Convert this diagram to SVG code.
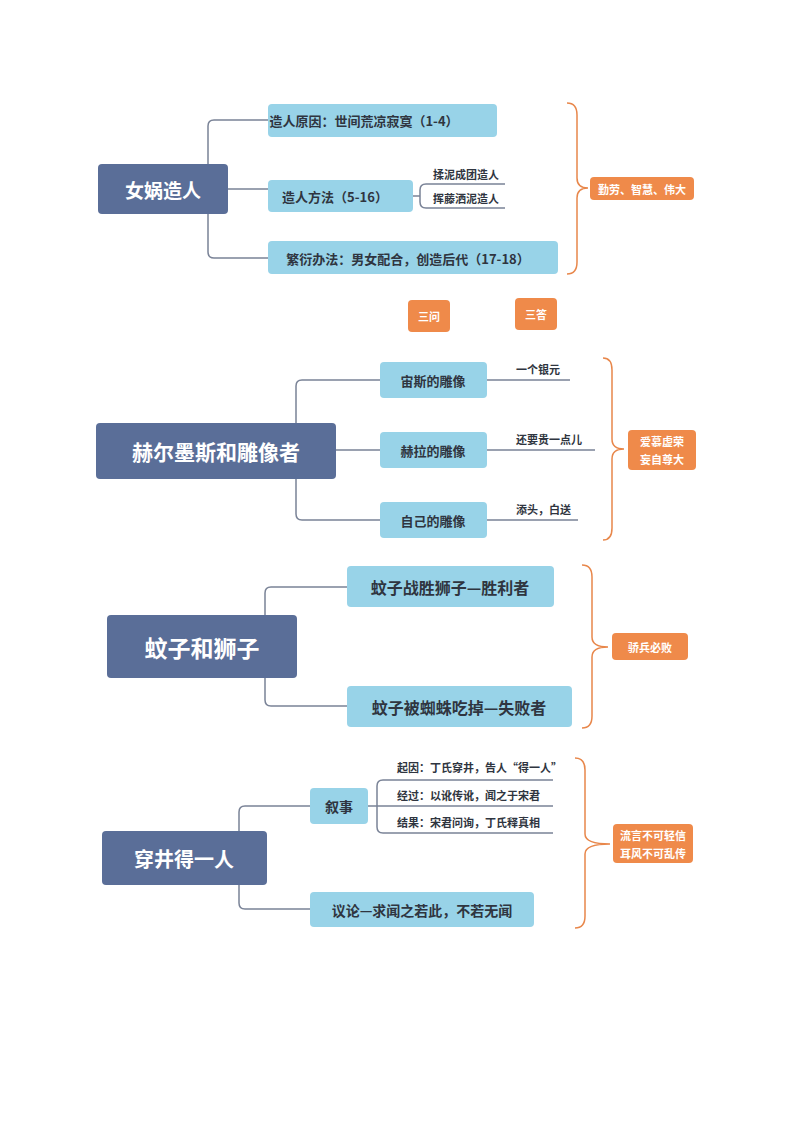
<svg xmlns="http://www.w3.org/2000/svg" width="794" height="1123" viewBox="0 0 794 1123">
<style>
text{font-family:"Noto Sans CJK SC","Liberation Sans",sans-serif;font-weight:bold;dominant-baseline:central}
.root{fill:#5a6e98}
.rt{fill:#fff;text-anchor:middle}
.ch{fill:#98d3e8}
.ct{fill:#2f3540;text-anchor:middle}
.or{fill:#ef8a4a}
.ot{fill:#fff;text-anchor:middle;font-size:11px}
.ln{fill:none;stroke:#7a8397;stroke-width:1.5}
.br{fill:none;stroke:#e8874b;stroke-width:1.5}
.st{fill:#2f3540;font-size:11px}
</style>
<rect width="794" height="1123" fill="#fff"/>
<g id="connectors">
<path class="ln" d="M228,189 H268 M268,120 H214 Q208,120 208,126 V252 Q208,258 214,258 H268"/>
<path class="ln" d="M413,196 H420 M505,184 H426 Q420,184 420,190 V202 Q420,208 426,208 H505"/>
<path class="ln" d="M336,450 H380 M380,380 H302 Q296,380 296,386 V514 Q296,520 302,520 H380"/>
<path class="ln" d="M487,380 H570 M487,450 H595 M487,520 H578"/>
<path class="ln" d="M347,587 H271 Q265,587 265,593 V700 Q265,706 271,706 H347"/>
<path class="ln" d="M310,806 H245 Q239,806 239,812 V903 Q239,909 245,909 H310"/>
<path class="ln" d="M368,806 H553 M553,780 H383 Q377,780 377,786 V827 Q377,833 383,833 H553"/>
<path class="br" d="M567,103 Q577,103 577,115 V178 Q577,188 588,188 Q577,188 577,198 V262 Q577,274 567,274"/>
<path class="br" d="M603,358 Q612,358 612,370 V439 Q612,449 624,449 Q612,449 612,459 V528 Q612,540 603,540"/>
<path class="br" d="M582,565 Q592,565 592,577 V637 Q592,647 608,647 Q592,647 592,657 V716 Q592,728 582,728"/>
<path class="br" d="M575,758 Q585,758 585,770 V834 Q585,844 610,844 Q585,844 585,854 V916 Q585,928 575,928"/>
</g>
<g id="n1"><rect class="root" x="98" y="164" width="130" height="50" rx="4"/><text class="rt" x="163" y="189" font-size="19">女娲造人</text></g>
<g id="n1a"><rect class="ch" x="268" y="104" width="229" height="33" rx="4"/><text class="ct" x="364" y="120" font-size="13">造人原因：世间荒凉寂寞（1-4）</text></g>
<g id="n1b"><rect class="ch" x="268" y="180" width="145" height="32" rx="4"/><text class="ct" x="335" y="196" font-size="13">造人方法（5-16）</text></g>
<g id="n1c"><rect class="ch" x="268" y="241" width="290" height="33" rx="4"/><text class="ct" x="408" y="258" font-size="13">繁衍办法：男女配合，创造后代（17-18）</text></g>
<g id="n1b1"><text class="st" x="433" y="174">揉泥成团造人</text></g>
<g id="n1b2"><text class="st" x="433" y="198">挥藤洒泥造人</text></g>
<g id="n1s"><rect class="or" x="590" y="177" width="104" height="23" rx="4"/><text class="ot" x="642" y="189">勤劳、智慧、伟大</text></g>
<g id="q"><rect class="or" x="408" y="300" width="42" height="32" rx="4"/><text class="ot" x="429" y="316" font-size="12">三问</text></g>
<g id="a"><rect class="or" x="515" y="298" width="42" height="32" rx="4"/><text class="ot" x="536" y="314" font-size="12">三答</text></g>
<g id="n2"><rect class="root" x="96" y="423" width="240" height="56" rx="4"/><text class="rt" x="216" y="451" font-size="21">赫尔墨斯和雕像者</text></g>
<g id="n2a"><rect class="ch" x="380" y="362" width="107" height="36" rx="4"/><text class="ct" x="433" y="380" font-size="13">宙斯的雕像</text></g>
<g id="n2b"><rect class="ch" x="380" y="432" width="107" height="36" rx="4"/><text class="ct" x="433" y="450" font-size="13">赫拉的雕像</text></g>
<g id="n2c"><rect class="ch" x="380" y="502" width="107" height="36" rx="4"/><text class="ct" x="433" y="520" font-size="13">自己的雕像</text></g>
<g id="n2a1"><text class="st" x="516" y="369">一个银元</text></g>
<g id="n2b1"><text class="st" x="516" y="439">还要贵一点儿</text></g>
<g id="n2c1"><text class="st" x="516" y="509">添头，白送</text></g>
<g id="n2s"><rect class="or" x="628" y="430" width="68" height="40" rx="4"/><text class="ot" x="662" y="441">爱慕虚荣</text><text class="ot" x="662" y="459">妄自尊大</text></g>
<g id="n3"><rect class="root" x="107" y="615" width="190" height="63" rx="4"/><text class="rt" x="202" y="647" font-size="23">蚊子和狮子</text></g>
<g id="n3a"><rect class="ch" x="347" y="566" width="207" height="41" rx="4"/><text class="ct" x="450" y="587" font-size="16">蚊子战胜狮子—胜利者</text></g>
<g id="n3b"><rect class="ch" x="347" y="686" width="225" height="41" rx="4"/><text class="ct" x="459" y="707" font-size="16">蚊子被蜘蛛吃掉—失败者</text></g>
<g id="n3s"><rect class="or" x="612" y="633" width="76" height="27" rx="4"/><text class="ot" x="650" y="647" font-size="13">骄兵必败</text></g>
<g id="n4"><rect class="root" x="102" y="831" width="165" height="54" rx="4"/><text class="rt" x="184" y="858" font-size="20">穿井得一人</text></g>
<g id="n4a"><rect class="ch" x="310" y="788" width="58" height="36" rx="4"/><text class="ct" x="339" y="806" font-size="14">叙事</text></g>
<g id="n4b"><rect class="ch" x="310" y="892" width="224" height="35" rx="4"/><text class="ct" x="422" y="910" font-size="14">议论—求闻之若此，不若无闻</text></g>
<g id="n4a1"><text class="st" x="397" y="767">起因：丁氏穿井，告人“得一人”</text></g>
<g id="n4a2"><text class="st" x="397" y="795">经过：以讹传讹，闻之于宋君</text></g>
<g id="n4a3"><text class="st" x="397" y="822">结果：宋君问询，丁氏释真相</text></g>
<g id="n4s"><rect class="or" x="613" y="824" width="80" height="39" rx="4"/><text class="ot" x="653" y="835" font-size="12">流言不可轻信</text><text class="ot" x="653" y="853" font-size="12">耳风不可乱传</text></g>
</svg>
